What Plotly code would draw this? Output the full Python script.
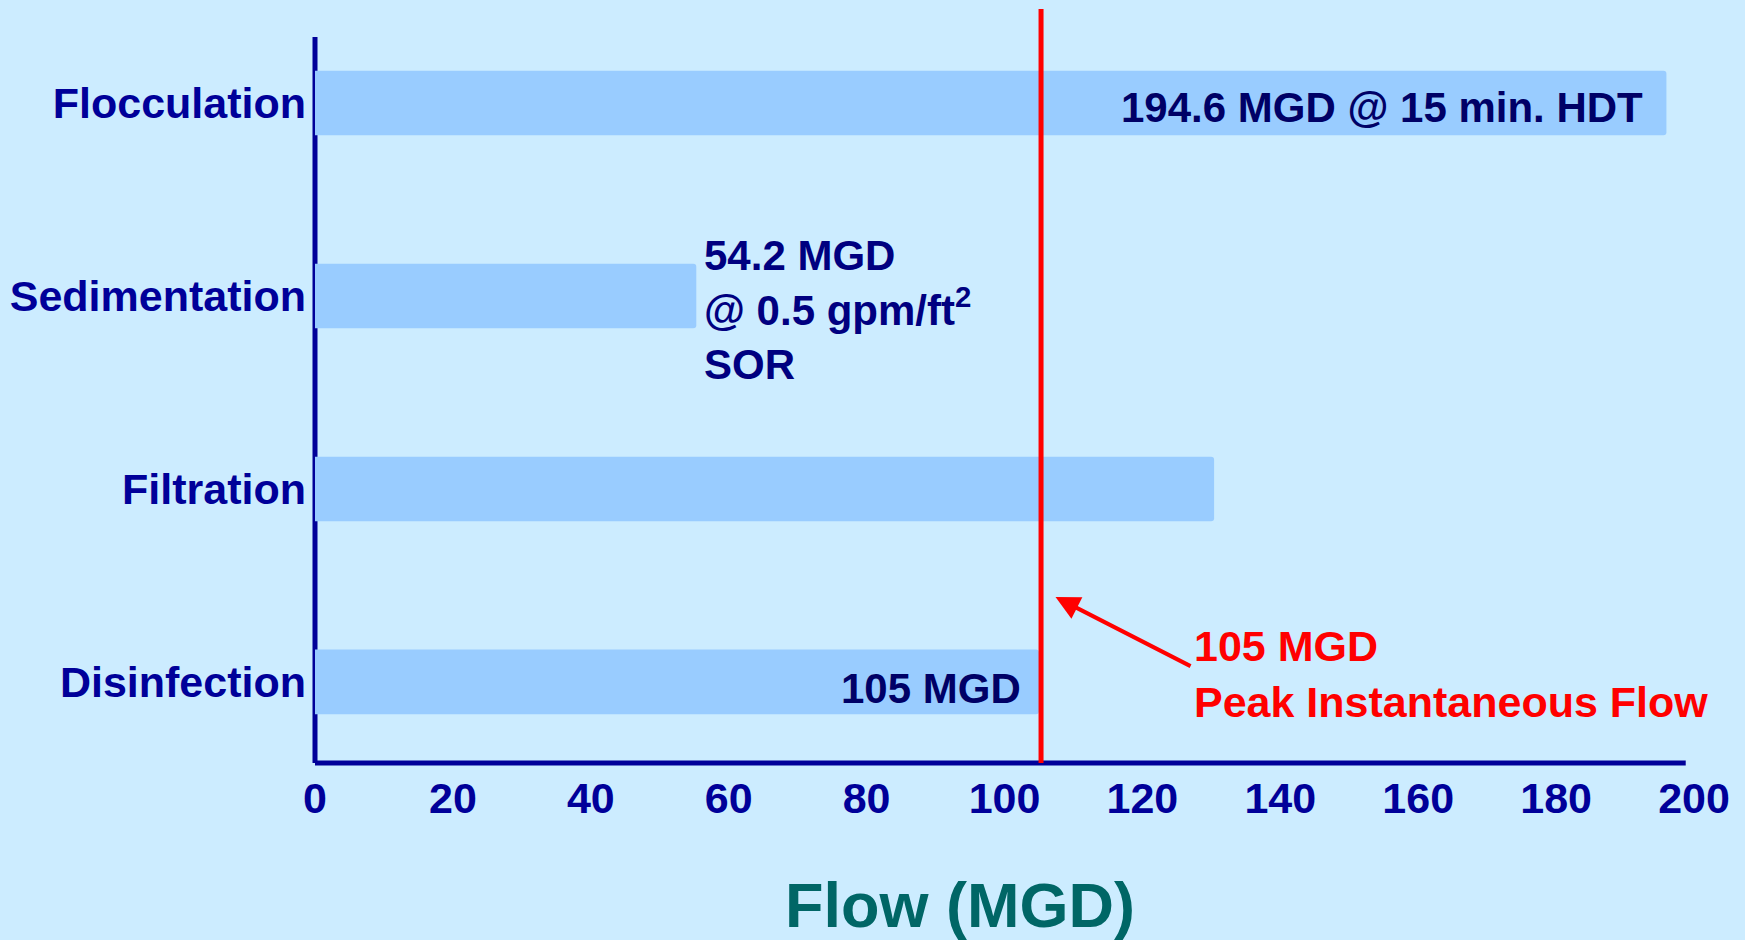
import plotly.graph_objects as go

# ---- data ----
categories = ["Flocculation", "Sedimentation", "Filtration", "Disinfection"]
flow_mgd = [196.0, 55.3, 130.4, 105.0]
peak_flow = 105.3
x_ticks = [0, 20, 40, 60, 80, 100, 120, 140, 160, 180, 200]
floc_label = "194.6 MGD @ 15 min. HDT"
sed_label = "54.2 MGD<br>@ 0.5 gpm/ft<sup>2</sup><br>SOR"
dis_label = "105 MGD"
peak_label = "105 MGD<br>Peak Instantaneous Flow"
x_title = "Flow (MGD)"

BG = "#CCECFF"
BAR = "#99CCFF"
AXIS = "#000099"
NAVY = "#000080"
DARK = "#000066"
RED = "#FF0000"
TEAL = "#006666"
FAM = "Liberation Sans, Arial, sans-serif"

fig = go.Figure()
fig.add_trace(go.Bar(
    y=categories, x=flow_mgd, orientation="h",
    marker=dict(color=BAR, line=dict(width=0)),
    width=0.335, hoverinfo="skip", showlegend=False,
))

fig.update_layout(
    width=1745, height=940,
    margin=dict(l=315, r=51, t=9, b=177),
    paper_bgcolor=BG, plot_bgcolor=BG,
    barcornerradius=3,
    font=dict(family=FAM, weight="bold"),
    xaxis=dict(
        range=[0, 200], tickvals=x_ticks, showgrid=False, zeroline=False,
        showline=False, ticks="", ticklabelstandoff=6,
        tickfont=dict(family=FAM, size=43, color=AXIS, weight="bold"),
    ),
    yaxis=dict(
        type="category", categoryorder="array", categoryarray=categories,
        range=[3.42, -0.487], showgrid=False, zeroline=False, showline=False,
        ticks="", ticklabelstandoff=8,
        tickfont=dict(family=FAM, size=43, color=AXIS, weight="bold"),
    ),
)

# axis lines (below bars)
fig.add_shape(type="line", xref="paper", yref="paper", x0=0, x1=0, y0=0, y1=0.963,
              line=dict(color=AXIS, width=5), layer="below")
fig.add_shape(type="line", xref="paper", yref="paper", x0=0, x1=0.994, y0=0, y1=0,
              line=dict(color=AXIS, width=5), layer="below")
# peak flow line
fig.add_shape(type="line", xref="x", yref="paper", x0=peak_flow, x1=peak_flow, y0=0, y1=1,
              line=dict(color=RED, width=5), layer="above")

# bar annotations
fig.add_annotation(x=flow_mgd[0], y=categories[0], xref="x", yref="y", text=floc_label,
                   showarrow=False, xanchor="right", yanchor="middle", xshift=-21, yshift=-5,
                   font=dict(family=FAM, size=42, color=DARK, weight="bold"))
fig.add_annotation(x=flow_mgd[1], y=1.057, xref="x", yref="y", text=sed_label,
                   showarrow=False, xanchor="left", yanchor="middle", align="left", xshift=6,
                   yshift=-3,
                   font=dict(family=FAM, size=42, color=NAVY, weight="bold"))
fig.add_annotation(x=flow_mgd[3], y=categories[3], xref="x", yref="y", text=dis_label,
                   showarrow=False, xanchor="right", yanchor="middle", xshift=-16, yshift=-7,
                   font=dict(family=FAM, size=42, color=DARK, weight="bold"))

# peak flow callout
fig.add_annotation(x=127.2, y=2.961, xref="x", yref="y", text=peak_label,
                   showarrow=False, xanchor="left", yanchor="middle", align="left",
                   font=dict(family=FAM, size=43, color=RED, weight="bold"))
fig.add_annotation(x=107.4, y=2.56, xref="x", yref="y", ax=127.2, ay=2.922,
                   axref="x", ayref="y", text="", showarrow=True,
                   arrowhead=2, arrowsize=1.2, arrowwidth=4, arrowcolor=RED, standoff=0)

# axis title
fig.add_annotation(x=0.468, y=-0.188, xref="paper", yref="paper", text=x_title,
                   showarrow=False, xanchor="center", yanchor="middle",
                   font=dict(family=FAM, size=63, color=TEAL, weight="bold"))

fig.write_html("out.html")
